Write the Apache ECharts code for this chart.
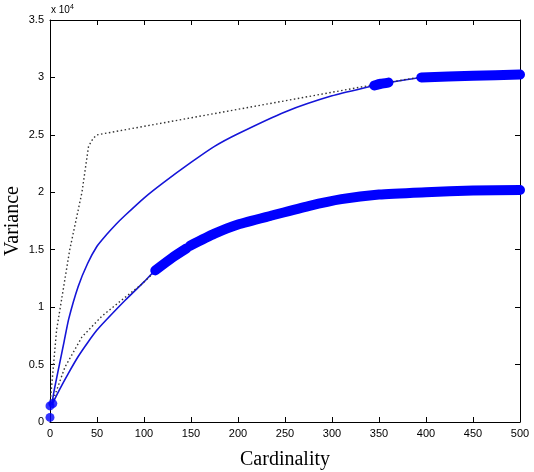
<!DOCTYPE html>
<html>
<head>
<meta charset="utf-8">
<script src="https://cdn.jsdelivr.net/npm/echarts@6/dist/echarts.min.js"></script>
<style>
  html, body { margin: 0; padding: 0; background: #fff; }
  #chart { width: 534px; height: 472px; }
</style>
</head>
<body>
<div id="chart"></div>
<script>
  // all variance values are in units of 1e4
  var upperX = [2, 5, 10, 15, 20, 30, 40, 50, 60, 70, 80, 100, 120, 150, 175, 200, 250, 300, 345, 352, 360, 395, 450, 500];
  var upperY = [0.16, 0.3, 0.5, 0.7, 0.9, 1.18, 1.38, 1.53, 1.63, 1.72, 1.80, 1.95, 2.08, 2.26, 2.40, 2.51, 2.70, 2.84, 2.93, 2.945, 2.955, 3.0, 3.015, 3.025];

  var lowerX = [2, 10, 20, 30, 40, 50, 60, 80, 100, 112, 130, 145, 149, 175, 200, 237, 275, 310, 350, 400, 450, 500];
  var lowerY = [0.15, 0.28, 0.43, 0.57, 0.69, 0.80, 0.89, 1.06, 1.22, 1.32, 1.43, 1.51, 1.535, 1.64, 1.72, 1.80, 1.88, 1.94, 1.98, 2.0, 2.015, 2.02];

  // dotted (piecewise linear) approximations
  var dotUpX = [0, 7, 11, 21, 34, 41, 46, 50, 340, 392];
  var dotUpY = [0.15, 0.8, 1.0, 1.5, 2.0, 2.4, 2.47, 2.5, 2.93, 3.0];
  var dotLowX = [2, 16, 34, 55, 76, 96, 112];
  var dotLowY = [0.16, 0.48, 0.74, 0.92, 1.06, 1.19, 1.31];

  // x ranges where the markers sit on the curves
  var upperMarkRanges = [[345, 360], [395, 500]];
  var lowerMarkRanges = [[112, 145], [149, 500]];
  var originMarks = [[0, 0.04], [0, 0.14], [3, 0.16]];

  var xTicks = {min: 0, max: 500, interval: 50};
  var yTicks = {min: 0, max: 3.5, interval: 0.5};

  function pairs(xs, ys) {
    return xs.map(function (x, i) { return [x, ys[i]]; });
  }
  function slice(xs, ys, r) {
    return pairs(xs, ys).filter(function (p) { return p[0] >= r[0] && p[0] <= r[1]; });
  }

  var blue = '#0000ff';
  var series = [
    {type: 'line', data: pairs(upperX, upperY), symbol: 'none', smooth: 0.2,
      lineStyle: {color: '#1515d8', width: 1.6, join: 'round'}, z: 2},
    {type: 'line', data: pairs(lowerX, lowerY), symbol: 'none', smooth: 0.2,
      lineStyle: {color: '#1515d8', width: 1.6, join: 'round'}, z: 2},
    {type: 'line', data: pairs(dotUpX, dotUpY), symbol: 'none',
      lineStyle: {color: '#333', width: 1.4, type: [1.5, 2.5]}, z: 3},
    {type: 'line', data: pairs(dotLowX, dotLowY), symbol: 'none',
      lineStyle: {color: '#333', width: 1.4, type: [1.5, 2.5]}, z: 3}
  ];
  upperMarkRanges.forEach(function (r) {
    series.push({type: 'line', data: slice(upperX, upperY, r), symbol: 'none', clip: false, smooth: 0.2,
      lineStyle: {color: blue, width: 10, cap: 'round', join: 'round'}, z: 4});
  });
  lowerMarkRanges.forEach(function (r) {
    series.push({type: 'line', data: slice(lowerX, lowerY, r), symbol: 'none', clip: false, smooth: 0.2,
      lineStyle: {color: blue, width: 10, cap: 'round', join: 'round'}, z: 4});
  });
  series.push({type: 'scatter', data: originMarks, symbolSize: 9, clip: false,
    itemStyle: {color: blue}, z: 5});

  var lbl = {color: '#000', fontSize: 11, fontFamily: 'Liberation Sans, Arial'};
  var line = {show: true, onZero: false, lineStyle: {color: '#000', width: 1}};
  var tick = {show: true, inside: true, length: 5, lineStyle: {color: '#000'}};

  var chart = echarts.init(document.getElementById('chart'));
  chart.setOption({
    animation: false,
    backgroundColor: '#fff',
    grid: {left: 50, right: 14, top: 20, bottom: 50, containLabel: false, outerBoundsMode: 'none'},
    xAxis: [
      Object.assign({type: 'value', position: 'bottom', axisLine: line, axisTick: tick,
        axisLabel: Object.assign({margin: 6}, lbl), splitLine: {show: false},
        name: 'Cardinality', nameLocation: 'middle', nameGap: 28, nameMoveOverlap: false,
        nameTextStyle: {fontFamily: 'Liberation Serif, Times New Roman', fontSize: 20, color: '#000'}}, xTicks),
      Object.assign({type: 'value', position: 'top', axisLine: line, axisTick: tick,
        axisLabel: {show: false}, splitLine: {show: false}}, xTicks)
    ],
    yAxis: [
      Object.assign({type: 'value', position: 'left', axisLine: line, axisTick: tick,
        axisLabel: Object.assign({margin: 6}, lbl), splitLine: {show: false},
        name: 'Variance', nameLocation: 'middle', nameGap: 27, nameMoveOverlap: false,
        nameTextStyle: {fontFamily: 'Liberation Serif, Times New Roman', fontSize: 20, color: '#000'}}, yTicks),
      Object.assign({type: 'value', position: 'right', axisLine: line, axisTick: tick,
        axisLabel: {show: false}, splitLine: {show: false}}, yTicks)
    ],
    graphic: [{
      type: 'text', left: 51, top: 4,
      style: {
        text: 'x 10{s|4}', fill: '#000', font: '10px Liberation Sans, Arial',
        rich: {s: {fontSize: 7, verticalAlign: 'top', padding: [0, 0, 6, 0]}}
      }
    }],
    series: series
  });
</script>
</body>
</html>
